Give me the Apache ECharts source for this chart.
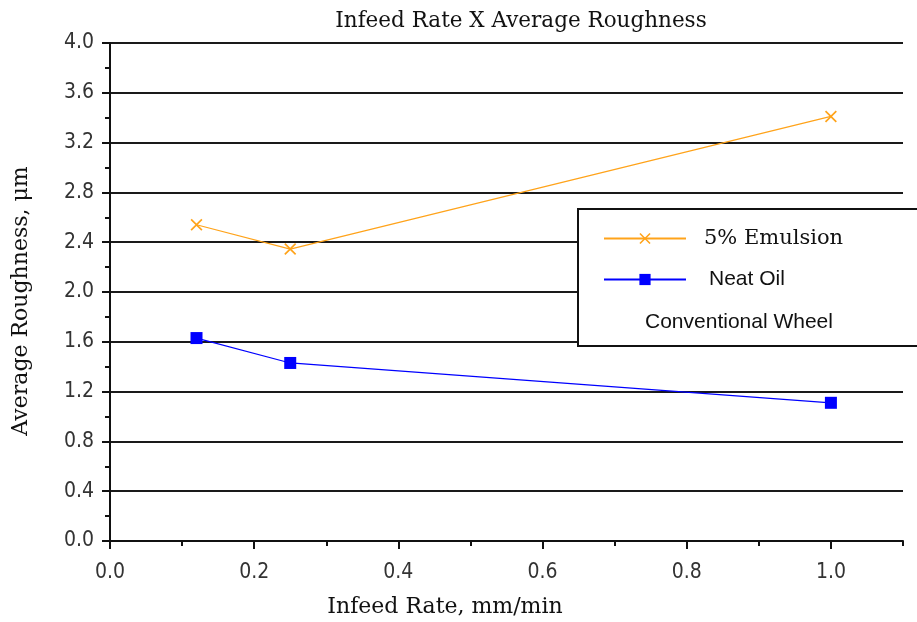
<!DOCTYPE html>
<html><head><meta charset="utf-8">
<script src="https://cdn.jsdelivr.net/npm/echarts@6/dist/echarts.min.js"></script>
<style>html,body{margin:0;padding:0;background:#fff}#c{width:917px;height:622px}</style>
</head><body><div id="c"></div>
<script>
const infeedRates = [0.12, 0.25, 1.0];
const emulsion = [2.54, 2.345, 3.41];
const neatOil = [1.63, 1.43, 1.11];
const xMajorTicks = [0, 0.2, 0.4, 0.6, 0.8, 1.0];
const xMinorTicks = [0.1, 0.3, 0.5, 0.7, 0.9, 1.1];
const seriesNames = ['5% Emulsion', 'Neat Oil'];

const serif = "'DejaVu Serif','Liberation Serif',serif";
const sans = "'Liberation Sans',Arial,sans-serif";
const tickFont = "'DejaVu Sans Condensed','Liberation Sans Narrow','Liberation Sans',sans-serif";
const xPath = 'path://M0,1L1,0L5,4L9,0L10,1L6,5L10,9L9,10L5,6L1,10L0,9L4,5Z';

const chart = echarts.init(document.getElementById('c'), null, {renderer:'canvas'});
chart.setOption({
  animation: false,
  backgroundColor: '#fff',
  grid: {left: 110, right: 14, top: 43, bottom: 81, containLabel: false},
  xAxis: [{
    type: 'value', min: 0, max: 1.1, interval: 0.1,
    axisLine: {show: true, onZero: false, lineStyle: {color: '#111', width: 2}},
    axisTick: {show: true, length: 8, lineStyle: {color: '#111', width: 2}, customValues: xMajorTicks},
    axisLabel: {customValues: xMajorTicks, formatter: v => v.toFixed(1), margin: 21,
      fontFamily: tickFont, fontSize: 21, color: '#333'},
    splitLine: {show: false}
  }, {
    type: 'value', min: 0, max: 1.1, interval: 0.1, position: 'bottom',
    axisLine: {show: false},
    axisTick: {show: true, length: 5, lineStyle: {color: '#111', width: 2}, customValues: xMinorTicks},
    axisLabel: {show: false},
    splitLine: {show: false}
  }],
  yAxis: {
    type: 'value', min: 0, max: 4, interval: 0.4,
    axisLine: {show: true, onZero: false, lineStyle: {color: '#111', width: 2}},
    axisTick: {show: true, length: 8, lineStyle: {color: '#111', width: 2}},
    minorTick: {show: true, splitNumber: 2, length: 5, lineStyle: {color: '#111', width: 2}},
    axisLabel: {formatter: v => v.toFixed(1), margin: 16, fontFamily: tickFont, fontSize: 21, color: '#333'},
    splitLine: {show: true, lineStyle: {color: '#1a1a1a', width: 2}}
  },
  legend: {
    orient: 'vertical', left: 603, top: 228, padding: 0, itemWidth: 82, itemHeight: 14, itemGap: 20, z: 20,
    data: [
      {name: seriesNames[0], textStyle: {fontFamily: serif, fontSize: 21, color: '#111', padding: [0,0,0,13]}},
      {name: seriesNames[1], textStyle: {fontFamily: sans, fontSize: 21, color: '#111', padding: [0,0,0,18]}}
    ]
  },
  graphic: [
    {type: 'rect', z: 10, shape: {x: 578, y: 209, width: 345, height: 137},
      style: {fill: '#fff', stroke: '#111', lineWidth: 2}},
    {type: 'text', z: 21, x: 645, y: 322, style: {text: 'Conventional Wheel', font: "21px 'Liberation Sans',Arial,sans-serif",
      fill: '#111', textVerticalAlign: 'middle'}},
    {type: 'text', x: 521, y: 21, style: {text: 'Infeed Rate X Average Roughness', font: "21.5px " + serif,
      fill: '#111', textAlign: 'center', textVerticalAlign: 'middle'}},
    {type: 'text', x: 445, y: 607, style: {text: 'Infeed Rate, mm/min', font: "22px " + serif,
      fill: '#111', textAlign: 'center', textVerticalAlign: 'middle'}},
    {type: 'text', x: 21, y: 301, rotation: Math.PI/2, style: {text: 'Average Roughness, μm', font: "22px " + serif,
      fill: '#111', textAlign: 'center', textVerticalAlign: 'middle'}}
  ],
  series: [
    {name: seriesNames[0], type: 'line', data: infeedRates.map((x,i)=>[x, emulsion[i]]),
      symbol: xPath, symbolSize: 12, color: '#ffa31a',
      lineStyle: {color: '#ffa31a', width: 1.2}, itemStyle: {color: '#ffa31a'}},
    {name: seriesNames[1], type: 'line', data: infeedRates.map((x,i)=>[x, neatOil[i]]),
      symbol: 'rect', symbolSize: 12, color: '#0000ff',
      lineStyle: {color: '#0000ff', width: 1.2}, itemStyle: {color: '#0000ff'}}
  ]
});
</script></body></html>
